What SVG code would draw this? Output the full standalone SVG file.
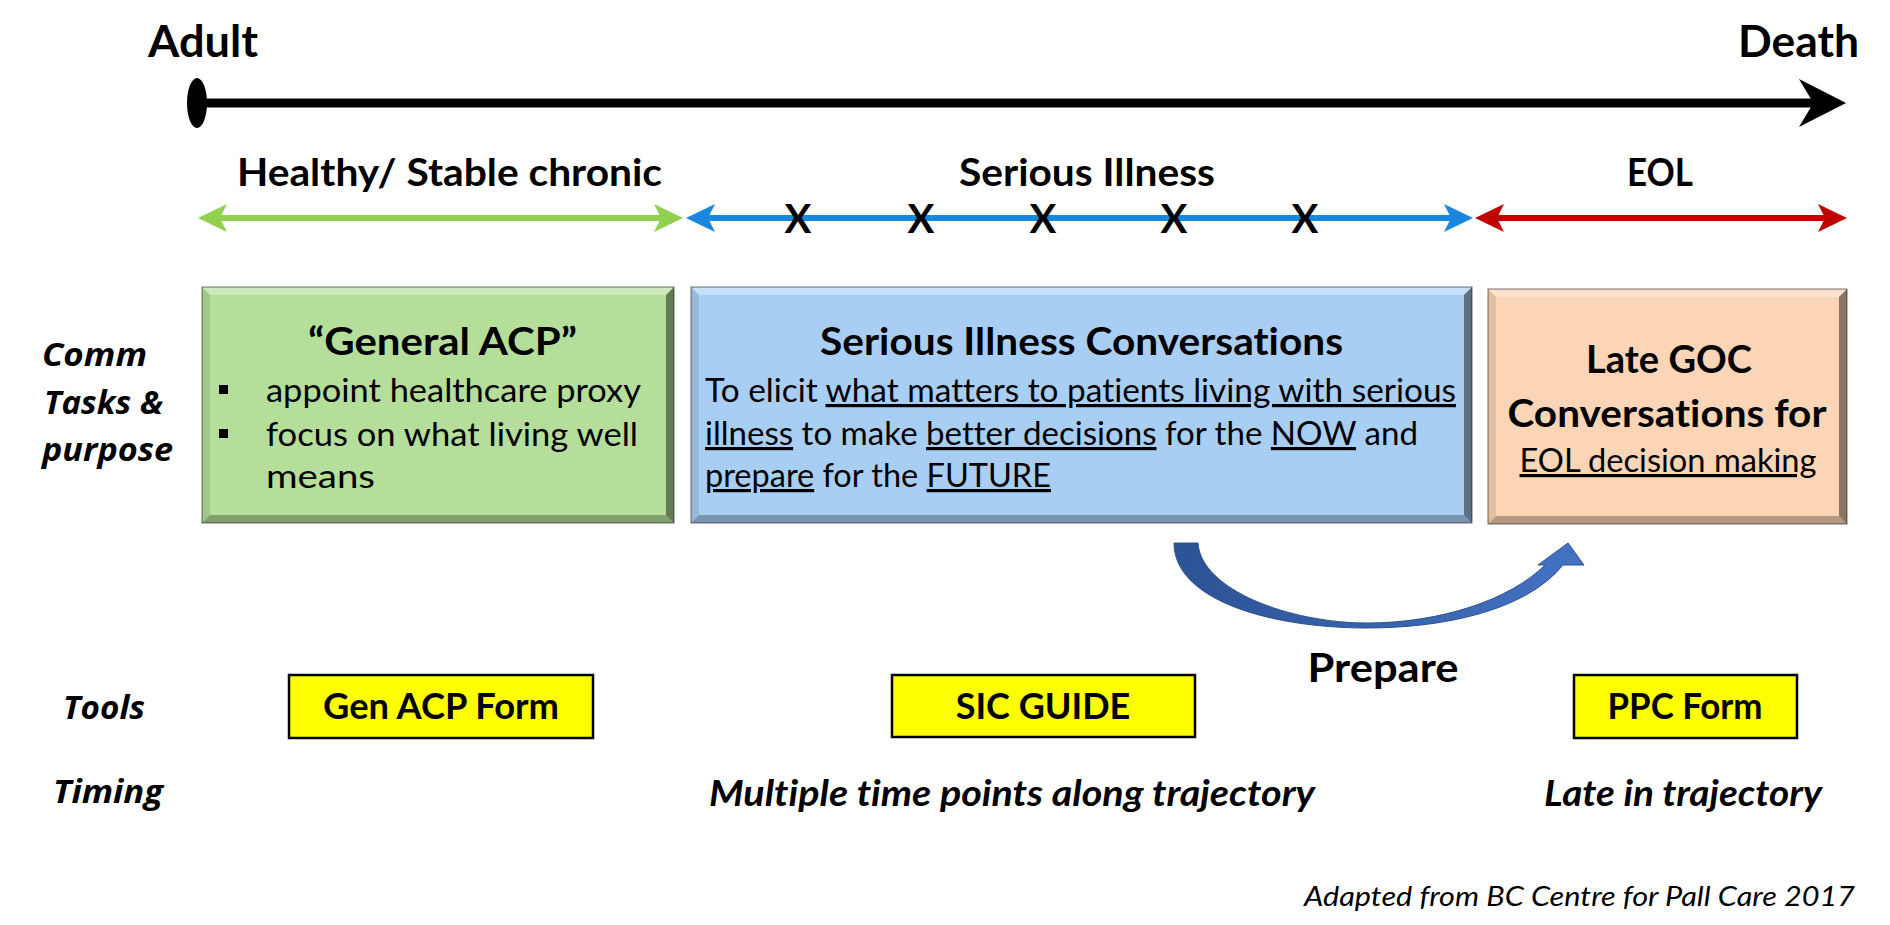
<svg xmlns="http://www.w3.org/2000/svg" width="1890" height="925" viewBox="0 0 1890 925">
<style>
text{font-variant-ligatures:none;font-feature-settings:"liga" 0,"dlig" 0}
.t{font-family:Lato,"Liberation Sans",sans-serif;fill:#000}
.b{font-weight:700}
.i{font-style:italic}
.lab{font-family:"Open Sans","Noto Sans","Liberation Sans",sans-serif;font-weight:700;font-style:italic;font-size:33px;fill:#000}
.big{font-size:43px}
.h{font-size:38.5px}
.body{font-size:32px}
.tool{font-size:36px}
.u{text-decoration:underline}
.bt{fill:#fff;fill-opacity:.35}
.bl{fill:#000;fill-opacity:.10}
.br{fill:#000;fill-opacity:.45}
.bb{fill:#000;fill-opacity:.28}
.edge{fill:none;stroke:#000;stroke-opacity:.45;stroke-width:1.2}
.ybox{fill:#FFFF00;stroke:#000;stroke-width:2.5}
.ln{fill:none;stroke-width:6}
</style>
<defs>
<marker id="hG" markerUnits="userSpaceOnUse" markerWidth="40" markerHeight="30" viewBox="-30 -15 40 30" refX="0" refY="0" orient="auto-start-reverse" overflow="visible"><path d="M10,0 L-19,-14 L-12,0 L-19,14 Z" fill="#92D050"/></marker>
<marker id="hB" markerUnits="userSpaceOnUse" markerWidth="40" markerHeight="30" viewBox="-30 -15 40 30" refX="0" refY="0" orient="auto-start-reverse" overflow="visible"><path d="M10,0 L-19,-14 L-12,0 L-19,14 Z" fill="#1787E0"/></marker>
<marker id="hR" markerUnits="userSpaceOnUse" markerWidth="40" markerHeight="30" viewBox="-30 -15 40 30" refX="0" refY="0" orient="auto-start-reverse" overflow="visible"><path d="M10,0 L-19,-14 L-12,0 L-19,14 Z" fill="#C00000"/></marker>
<marker id="hK" markerUnits="userSpaceOnUse" markerWidth="50" markerHeight="52" viewBox="-26 -26 52 52" refX="0" refY="0" orient="auto" overflow="visible"><path d="M24,0 L-25,-25 L-10,0 L-25,25 Z" fill="#000"/></marker>
<linearGradient id="curveG" x1="0" y1="0" x2="1" y2="0"><stop offset="0" stop-color="#2C5394"/><stop offset="1" stop-color="#4472C4"/></linearGradient>
</defs>

<g id="timeline">
<ellipse cx="197" cy="103" rx="10" ry="25" fill="#000"/>
<line x1="197" y1="103" x2="1823" y2="103" stroke="#000" stroke-width="9" marker-end="url(#hK)"/>
<text class="t b big" x="148" y="57" textLength="110" lengthAdjust="spacingAndGlyphs">Adult</text>
<text class="t b big" x="1738" y="57" textLength="121" lengthAdjust="spacingAndGlyphs">Death</text>
</g>

<g id="phase-labels">
<text class="t b h" x="237" y="186" textLength="425" lengthAdjust="spacingAndGlyphs">Healthy/ Stable chronic</text>
<text class="t b h" x="959" y="186" textLength="256" lengthAdjust="spacingAndGlyphs">Serious Illness</text>
<text class="t b h" x="1627" y="186" textLength="66" lengthAdjust="spacingAndGlyphs">EOL</text>
</g>

<g id="connectors">
<line class="ln" x1="208" y1="218" x2="673" y2="218" stroke="#92D050" marker-start="url(#hG)" marker-end="url(#hG)"/>
<line class="ln" x1="696" y1="218" x2="1463" y2="218" stroke="#1787E0" marker-start="url(#hB)" marker-end="url(#hB)"/>
<line class="ln" x1="1485" y1="218" x2="1837" y2="218" stroke="#C00000" marker-start="url(#hR)" marker-end="url(#hR)"/>
<path id="prepare-arrow" d="M1174,543 L1198,543 C1201,590 1290,623 1367,623 C1440,623 1510,600 1545,565 L1538,565 L1568,543 L1584,565 L1563,565 C1525,612 1440,628 1367,628 C1270,628 1174,600 1174,543 Z" fill="url(#curveG)" stroke="#2F528F" stroke-width="1"/>
</g>

<g id="time-points">
<text class="t b" font-size="40" x="798" y="233" text-anchor="middle">X</text>
<text class="t b" font-size="40" x="921" y="233" text-anchor="middle">X</text>
<text class="t b" font-size="40" x="1043" y="233" text-anchor="middle">X</text>
<text class="t b" font-size="40" x="1174" y="233" text-anchor="middle">X</text>
<text class="t b" font-size="40" x="1305" y="233" text-anchor="middle">X</text>
</g>

<g id="row-labels">
<text class="lab" x="42" y="366" textLength="105" lengthAdjust="spacingAndGlyphs">Comm</text>
<text class="lab" x="44" y="414" textLength="119" lengthAdjust="spacingAndGlyphs">Tasks &amp;</text>
<text class="lab" x="42" y="461" textLength="131" lengthAdjust="spacingAndGlyphs">purpose</text>
<text class="lab" x="63" y="719" textLength="82" lengthAdjust="spacingAndGlyphs">Tools</text>
<text class="lab" x="53" y="803" textLength="110" lengthAdjust="spacingAndGlyphs">Timing</text>
</g>

<g id="general-acp">
<rect x="202" y="287" width="472" height="236" fill="#B4DE9A"/>
<polygon class="bt" points="202,287 674,287 666,295 210,295"/>
<polygon class="bl" points="202,287 210,295 210,515 202,523"/>
<polygon class="br" points="674,287 674,523 666,515 666,295"/>
<polygon class="bb" points="202,523 674,523 666,515 210,515"/>
<rect class="edge" x="202" y="287" width="472" height="236"/>
<text class="t b h" x="308" y="355" textLength="269" lengthAdjust="spacingAndGlyphs">“General ACP”</text>
<rect x="219" y="385" width="9" height="9" fill="#000"/>
<rect x="219" y="429" width="9" height="9" fill="#000"/>
<text class="t body" x="266" y="402" textLength="375" lengthAdjust="spacingAndGlyphs">appoint healthcare proxy</text>
<text class="t body" x="266" y="446" textLength="372" lengthAdjust="spacingAndGlyphs">focus on what living well</text>
<text class="t body" x="266" y="488" textLength="109" lengthAdjust="spacingAndGlyphs">means</text>
</g>

<g id="sic">
<rect x="691" y="287" width="781" height="236" fill="#A9CEF3"/>
<polygon class="bt" points="691,287 1472,287 1464,295 699,295"/>
<polygon class="bl" points="691,287 699,295 699,515 691,523"/>
<polygon class="br" points="1472,287 1472,523 1464,515 1464,295"/>
<polygon class="bb" points="691,523 1472,523 1464,515 699,515"/>
<rect class="edge" x="691" y="287" width="781" height="236"/>
<text class="t b h" x="820" y="355" textLength="523" lengthAdjust="spacingAndGlyphs">Serious Illness Conversations</text>
<text class="t body" x="705" y="402" textLength="751" lengthAdjust="spacingAndGlyphs">To elicit <tspan class="u">what matters to patients living with serious</tspan></text>
<text class="t body" x="705" y="445" textLength="713" lengthAdjust="spacingAndGlyphs"><tspan class="u">illness</tspan> to make <tspan class="u">better decisions</tspan> for the <tspan class="u">NOW</tspan> and</text>
<text class="t body" x="705" y="487" textLength="346" lengthAdjust="spacingAndGlyphs"><tspan class="u">prepare</tspan> for the <tspan class="u">FUTURE</tspan></text>
</g>

<g id="late-goc">
<rect x="1488" y="289" width="359" height="235" fill="#FBD5B5"/>
<polygon class="bt" points="1488,289 1847,289 1839,297 1496,297"/>
<polygon class="bl" points="1488,289 1496,297 1496,516 1488,524"/>
<polygon class="br" points="1847,289 1847,524 1839,516 1839,297"/>
<polygon class="bb" points="1488,524 1847,524 1839,516 1496,516"/>
<rect class="edge" x="1488" y="289" width="359" height="235"/>
<text class="t b h" x="1669" y="373" text-anchor="middle" textLength="166" lengthAdjust="spacingAndGlyphs">Late GOC</text>
<text class="t b h" x="1667" y="427" text-anchor="middle" textLength="319" lengthAdjust="spacingAndGlyphs">Conversations for</text>
<text class="t body u" x="1668" y="472" text-anchor="middle" textLength="297" lengthAdjust="spacingAndGlyphs">EOL decision making</text>
</g>

<g id="prepare-label">
<text class="t b" font-size="41" x="1383" y="682" text-anchor="middle" textLength="151" lengthAdjust="spacingAndGlyphs">Prepare</text>
</g>

<g id="tool-gen-acp">
<rect class="ybox" x="289" y="675" width="304" height="63"/>
<text class="t b tool" x="441" y="719" text-anchor="middle" textLength="236" lengthAdjust="spacingAndGlyphs">Gen ACP Form</text>
</g>
<g id="tool-sic">
<rect class="ybox" x="892" y="675" width="303" height="62"/>
<text class="t b tool" x="1043" y="719" text-anchor="middle">SIC GUIDE</text>
</g>
<g id="tool-ppc">
<rect class="ybox" x="1574" y="675" width="223" height="63"/>
<text class="t b tool" x="1685" y="719" text-anchor="middle" textLength="155" lengthAdjust="spacingAndGlyphs">PPC Form</text>
</g>

<g id="timing">
<text class="t b i tool" x="709" y="806" textLength="606" lengthAdjust="spacingAndGlyphs">Multiple time points along trajectory</text>
<text class="t b i tool" x="1544" y="806" textLength="278" lengthAdjust="spacingAndGlyphs">Late in trajectory</text>
</g>

<g id="credit">
<text class="t i" font-size="27" x="1304" y="906" textLength="551" lengthAdjust="spacingAndGlyphs">Adapted from BC Centre for Pall Care 2017</text>
</g>
</svg>
